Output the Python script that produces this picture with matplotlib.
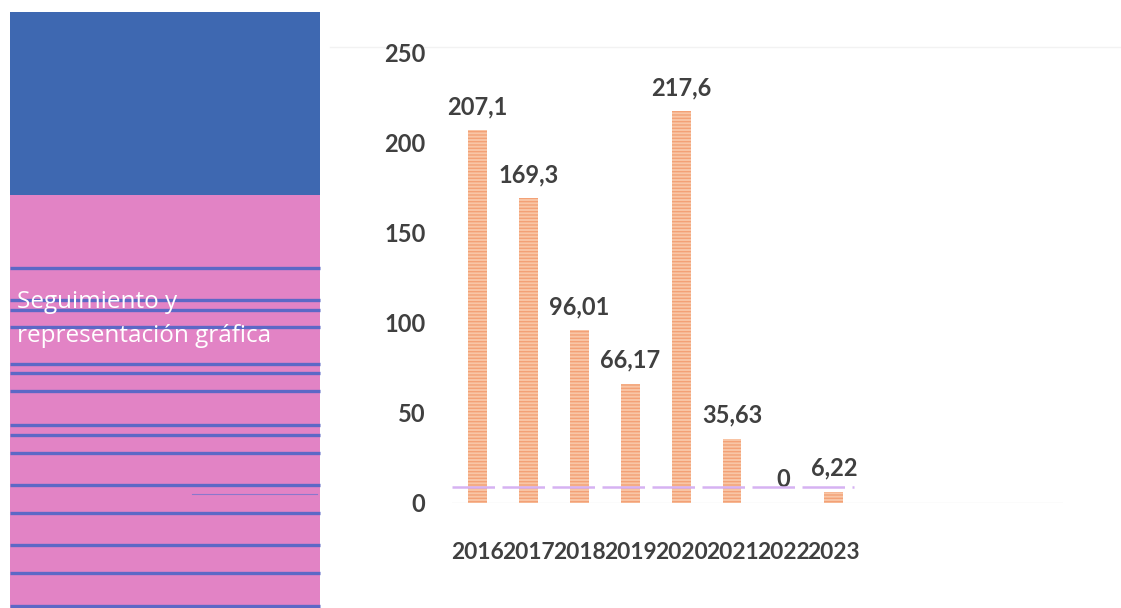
import numpy as np
import matplotlib.pyplot as plt
from matplotlib.patches import Rectangle

years = ['2016', '2017', '2018', '2019', '2020', '2021', '2022', '2023']
values = [207.1, 169.3, 96.01, 66.17, 217.6, 35.63, 0, 6.22]
value_labels = ['207,1', '169,3', '96,01', '66,17', '217,6', '35,63', '0', '6,22']
y_ticks = [0, 50, 100, 150, 200, 250]
ref_level = 9

# stripes across the side panel (pixel rows)
stripe_rows = [268, 300, 310, 327, 364, 373, 391, 425, 435, 453, 485, 513, 545, 573, 606]

plt.rcParams['font.family'] = ['Lato', 'DejaVu Sans']
W, H = 1121, 608
fig = plt.figure(figsize=(W / 100, H / 100), dpi=100)

# side panel, drawn in pixel space
side = fig.add_axes([0, 0, 1, 1], zorder=0)
side.set_xlim(0, W)
side.set_ylim(H, 0)
side.axis('off')
side.add_patch(Rectangle((10, 12), 310, 183, color='#3e68b1', lw=0))
side.add_patch(Rectangle((10, 195), 310, H - 195, color='#e283c5', lw=0))
for r in stripe_rows:
    side.plot([10, 320], [r, r], color='#5c68c6', lw=2.4, solid_capstyle='butt')
side.plot([192, 317], [494, 494], color='#8a78cc', lw=0.8)
side.text(17, 302, 'Seguimiento y', color='white', fontsize=17.5,
          family=['Open Sans', 'DejaVu Sans'], va='center', ha='left')
side.text(17, 336, 'representación gráfica', color='white', fontsize=17.5,
          family=['Open Sans', 'DejaVu Sans'], va='center', ha='left')
# thin frame line along the top of the chart area
side.plot([330, W], [47, 47], color='#f2f2f2', lw=1)

ax = fig.add_axes([452 / W, (H - 503) / H, (1063 - 452) / W, 450 / H], zorder=1)
ax.patch.set_alpha(0)
x = np.arange(len(years))
ax.bar(x, values, width=0.37, color='#f9c6a6', edgecolor='#f3a176',
       linewidth=0, hatch='-----', zorder=2)
for xi, v, lab in zip(x, values, value_labels):
    ax.annotate(lab, (xi, v), xytext=(0, 17), textcoords='offset points',
                ha='center', va='center', fontsize=17, fontweight='bold',
                color='#404040')

ax.plot([-0.5, 7.4], [ref_level, ref_level], color='#d6b2f2', lw=1.8,
        dashes=(17, 3), zorder=3)
ax.axhline(0, color='#ececec', lw=1, zorder=1)

ax.set_xlim(-0.5, 11.5)
ax.set_ylim(0, 250)
ax.set_xticks(x)
ax.set_xticklabels(years)
ax.set_yticks(y_ticks)
ax.tick_params(length=0, labelsize=17, labelcolor='#404040')
ax.tick_params(axis='x', labelsize=16.4, pad=28)
ax.tick_params(axis='y', pad=19)
for t in ax.get_xticklabels() + ax.get_yticklabels():
    t.set_fontweight('bold')
for s in ax.spines.values():
    s.set_visible(False)

fig.savefig('out.png', dpi=100)
